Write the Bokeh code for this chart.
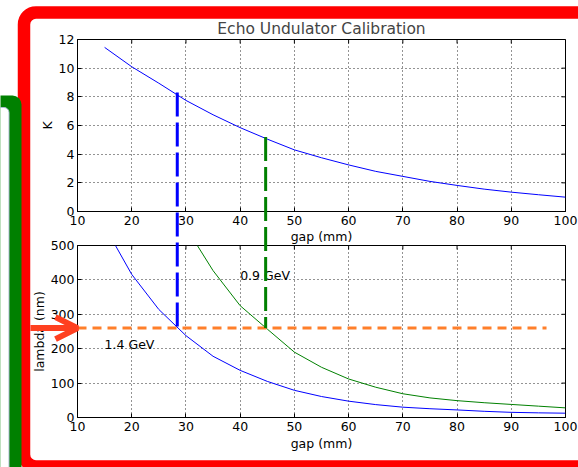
import math
from bokeh.plotting import figure
from bokeh.layouts import column
from bokeh.models import (Range1d, FixedTicker, BoxAnnotation, Arrow, OpenHead,
                          ColumnDataSource)
from bokeh.core.properties import value
from bokeh.embed import file_html
from bokeh.resources import INLINE

# ---------------- data ----------------
gap_ticks = [10, 20, 30, 40, 50, 60, 70, 80, 90, 100]
k_ticks = [0, 2, 4, 6, 8, 10, 12]
lam_ticks = [0, 100, 200, 300, 400, 500]

k_gap = [15, 20, 25, 30, 35, 40, 45, 50, 55, 60, 65, 70, 75, 80, 85, 90, 95, 100]
k_val = [11.45, 10.1, 8.95, 7.75, 6.75, 5.85, 5.05, 4.3, 3.75, 3.25, 2.8, 2.45, 2.1,
         1.82, 1.56, 1.35, 1.17, 1.0]

lam14_gap = [17, 20, 25, 30, 35, 40, 45, 50, 55, 60, 65, 70, 75, 80, 85, 90, 95, 100]
lam14_val = [500, 416, 314, 238, 178, 137, 105, 79, 61, 47.5, 37.5, 30, 25.5, 22, 18,
             15, 13.5, 12.5]

lam09_gap = [32.1, 35, 40, 45, 50, 55, 60, 65, 70, 75, 80, 85, 90, 95, 100]
lam09_val = [500, 427, 325, 257, 190, 146, 112, 88, 69, 57, 49, 43, 38, 33, 28]

target_lambda = 260
target_span = [10, 96.5]
marker_gap = [28.4, 44.7]
marker_k = [8.3, 5.2]
marker_color = ["#0000FF", "#008000"]
energy_text = ["1.4 GeV", "0.9 GeV"]
energy_gap = [15, 40]
energy_lam = [200, 400]

X_MIN, X_MAX = 10, 100
K_MIN, K_MAX = 0, 12
L_MIN, L_MAX = 0, 500

# ---------------- layout (canvas pixels) ----------------
W, H = 578, 467
FL, FR = 77, 565          # plot frames, left / right
FH = 172                  # frame height of both panels
FT_A, FB_A = 39, 211      # upper panel frame top / bottom
FT_B, FB_B = 245, 417     # lower panel frame top / bottom

FONT = "DejaVu Sans"


def x_at(px):
    return X_MIN + (px - FL) * (X_MAX - X_MIN) / (FR - FL)


def k_px(k):
    return FB_A - (k - K_MIN) * FH / (K_MAX - K_MIN)


def lam_at(py):
    return L_MIN + (FB_B - py) * (L_MAX - L_MIN) / FH


def make_panel(top_border, ylo, yhi, title=None, base=False):
    p = figure(width=W, height=H, x_range=Range1d(X_MIN, X_MAX),
               y_range=Range1d(ylo, yhi), output_backend="svg",
               toolbar_location=None, title=title,
               min_border_left=FL, min_border_right=W - FR,
               min_border_top=top_border,
               min_border_bottom=H - top_border - FH)
    p.background_fill_color = "white"
    p.border_fill_color = "white" if base else None
    p.outline_line_color = "black"
    p.outline_line_width = 1
    p.grid.grid_line_color = "black"
    p.grid.grid_line_dash = "1 3"
    p.grid.grid_line_width = 1
    p.grid.grid_line_alpha = 0.85
    return p


def style_axis(ax, ticks, label, label_standoff, axis_standoff):
    ax.ticker = FixedTicker(ticks=ticks)
    ax.axis_label = label
    ax.axis_label_text_font = FONT
    ax.axis_label_text_font_size = "12.5px"
    ax.axis_label_text_font_style = "normal"
    ax.axis_label_text_color = "black"
    ax.axis_label_standoff = axis_standoff
    ax.major_label_text_font = FONT
    ax.major_label_text_font_size = "12.5px"
    ax.major_label_text_color = "black"
    ax.major_label_standoff = label_standoff
    ax.major_tick_in = 4
    ax.major_tick_out = 0
    ax.major_tick_line_color = "black"
    ax.minor_tick_line_color = None
    ax.axis_line_color = "black"


def mirror_ticks(p, yticks, ytop):
    # inward ticks on the top and right edges (half of each dash lies in the frame)
    p.dash(x=gap_ticks, y=[ytop] * len(gap_ticks), size=8, angle=math.pi / 2,
           line_color="black", line_width=1)
    p.dash(x=[X_MAX] * len(yticks), y=yticks, size=8, angle=0,
           line_color="black", line_width=1)


# ---------------- upper panel: K vs gap ----------------
top = make_panel(FT_A, K_MIN, K_MAX, "Echo Undulator Calibration", base=True)
top.title.text_font = FONT
top.title.text_font_size = "15.5px"
top.title.text_font_style = "normal"
top.title.align = "center"
top.title.standoff = 4
style_axis(top.xaxis[0], gap_ticks, "gap (mm)", 4, 1)
style_axis(top.yaxis[0], k_ticks, "K", 3, 1)
mirror_ticks(top, k_ticks, K_MAX)
top.line(k_gap, k_val, line_color="#0000FF", line_width=1)

# ---------------- lower panel: lambda vs gap ----------------
bot = make_panel(FT_B, L_MIN, L_MAX)
bot.styles = {"margin-top": f"-{H}px"}
style_axis(bot.xaxis[0], gap_ticks, "gap (mm)", 4, 2)
style_axis(bot.yaxis[0], lam_ticks, "lambda (nm)", 3, 1)
mirror_ticks(bot, lam_ticks, L_MAX)

bot.line(lam14_gap, lam14_val, line_color="#0000FF", line_width=1)
bot.line(lam09_gap, lam09_val, line_color="#008000", line_width=1)

src = ColumnDataSource(dict(x=energy_gap, y=energy_lam, t=energy_text))
bot.text(x="x", y="y", text="t", source=src, text_font=value(FONT),
         text_font_size="12.5px", text_baseline="alphabetic", text_align="left",
         text_color="black", y_offset=-4)

bot.line(target_span, [target_lambda, target_lambda], line_color="#FF7F2A",
         line_width=3, line_dash="9 6")

# ---------------- overlay: marks that cross both panels + frames ----------------
deco = figure(width=W, height=H, x_range=Range1d(x_at(0), x_at(W)),
              y_range=Range1d(lam_at(H), lam_at(0)), output_backend="svg",
              toolbar_location=None, x_axis_location=None, y_axis_location=None,
              min_border=0)
if hasattr(deco, "frame_align"):
    deco.frame_align = False
deco.styles = {"margin-top": f"-{H}px"}
deco.background_fill_color = None
deco.border_fill_color = None
deco.outline_line_color = None
deco.grid.visible = False

for g, k, c in zip(marker_gap, marker_k, marker_color):
    deco.segment(x0=[g], y0=[lam_at(k_px(k))], x1=[g], y1=[target_lambda],
                 line_color=c, line_width=3, line_dash="24 6")

deco.add_layout(Arrow(x_start=x_at(30), y_start=target_lambda, x_end=X_MIN,
                      y_end=target_lambda, line_color="#FF4020", line_width=6,
                      end=OpenHead(size=22, line_color="#FF4020", line_width=6)))

# red window frame
deco.add_layout(BoxAnnotation(left=x_at(23.5), right=x_at(W + 60), top=lam_at(12),
                              bottom=lam_at(466), fill_color=None, fill_alpha=0,
                              line_color="#FF0000", line_alpha=1, line_width=12.5,
                              border_radius=12))
# green window frame at the left
deco.add_layout(BoxAnnotation(left=x_at(-60), right=x_at(21), top=lam_at(95),
                              bottom=lam_at(H + 60), fill_color="#008000",
                              fill_alpha=1, line_color=None,
                              border_radius=(0, 9, 0, 0)))
deco.add_layout(BoxAnnotation(left=x_at(-60), right=x_at(8.5), top=lam_at(107),
                              bottom=lam_at(H + 60), fill_color="#FFFFFF",
                              fill_alpha=1, line_color="#A9BCD0", line_alpha=1,
                              line_width=1, border_radius=(0, 5, 0, 0)))

layout = column(top, bot, deco, spacing=0)
open("out.html", "w").write(file_html(layout, INLINE))
